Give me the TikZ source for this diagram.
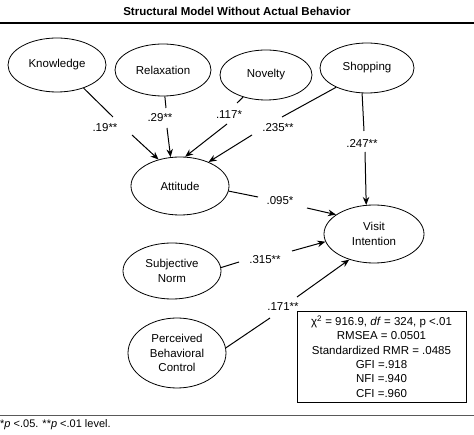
\documentclass[tikz,border=0pt]{standalone}
\usepackage{fontspec}
\setmainfont{Liberation Sans}
\usetikzlibrary{shapes.geometric,arrows.meta}
\begin{document}
\begin{tikzpicture}[x=1pt,y=-1pt,
  every node/.style={font=\fontsize{11.5}{14.3}\selectfont},
  latent/.style={draw,ellipse,line width=0.8pt,inner sep=0pt,align=center},
  coef/.style={inner sep=0pt},
  conn/.style={line width=1pt},
  arr/.style={line width=1pt,-{Stealth[length=8pt,width=6.5pt]}}]
\useasboundingbox (0,0) rectangle (474,435);
% title and rules
\node[font=\fontsize{11.5}{14}\selectfont\bfseries] (title) at (237,11) {Structural Model Without Actual Behavior};
\draw[line width=1.6pt] (0,23.3) -- (474,23.3);
\draw[line width=1.4pt,black!65] (0,415.3) -- (474,415.3);
\node[anchor=west,inner sep=0pt,font=\fontsize{11}{13}\selectfont] (note) at (0,425) {*\textit{p} <.05. **\textit{p} <.01 level.};
% latent variables
\node[latent,minimum width=98pt,minimum height=54pt] (know) at (57,65) {Knowledge};
\node[latent,minimum width=96pt,minimum height=52pt] (relax) at (163,70) {Relaxation};
\node[latent,minimum width=92pt,minimum height=50pt] (nov) at (266,75) {Novelty};
\node[latent,minimum width=94pt,minimum height=50pt] (shop) at (367,68) {Shopping};
\node[latent,minimum width=98pt,minimum height=58pt] (att) at (180,186) {Attitude};
\node[latent,minimum width=100pt,minimum height=58pt] (vis) at (374,234) {Visit\\Intention};
\node[latent,minimum width=98pt,minimum height=56pt] (subj) at (172,271) {Subjective\\Norm};
\node[latent,minimum width=98pt,minimum height=70pt] (pbc) at (177,353) {Perceived\\Behavioral\\Control};
% gap coordinates
\coordinate (k1) at (113,117); \coordinate (k2) at (132,135);
\coordinate (r1) at (166,108); \coordinate (r2) at (167,128);
\coordinate (n1) at (237,103); \coordinate (n2) at (227,124);
\coordinate (s1) at (282,117); \coordinate (s2) at (252,135);
\coordinate (v1) at (364,131); \coordinate (v2) at (365,152);
\coordinate (a1) at (258,197); \coordinate (a2) at (307,208);
\coordinate (j1) at (239,262); \coordinate (j2) at (292,251);
\coordinate (p1) at (270,318); \coordinate (p2) at (297,297);
% connectors
\draw[conn] (know.-41) -- (k1); \draw[arr] (k2) -- (att.129);
\draw[conn] (relax.-86) -- (r1); \draw[arr] (r2) -- (att.108);
\draw[conn] (nov.-136) -- (n1); \draw[arr] (n2) -- (att.80);
\draw[conn] (shop.-148) -- (s1); \draw[arr] (s2) -- (att.40);
\draw[conn] (shop.-101) -- (v1); \draw[arr] (v2) -- (vis.105);
\draw[conn] (att.-6) -- (a1); \draw[arr] (a2) -- (vis.153);
\draw[conn] (subj.4) -- (j1); \draw[arr] (j2) -- (vis.189);
\draw[conn] (pbc.6) -- (p1); \draw[arr] (p2) -- (vis.226);
% coefficients
\node[coef] (c1) at (105,128) {.19**};
\node[coef] (c2) at (160,118) {.29**};
\node[coef] (c3) at (229,115) {.117*};
\node[coef] (c4) at (278,128) {.235**};
\node[coef] (c5) at (362,143) {.247**};
\node[coef] (c6) at (280,201) {.095*};
\node[coef] (c7) at (265,260) {.315**};
\node[coef] (c8) at (283,307) {.171**};
% fit box
\node[draw,line width=0.8pt,minimum width=169pt,minimum height=91pt,align=center,inner sep=0pt] (fit) at (381.5,356.5)
 {χ\textsuperscript{2} = 916.9, \textit{df} = 324, p <.01\\RMSEA = 0.0501\\Standardized RMR = .0485\\GFI =.918\\NFI =.940\\CFI =.960};
\end{tikzpicture}
\end{document}
